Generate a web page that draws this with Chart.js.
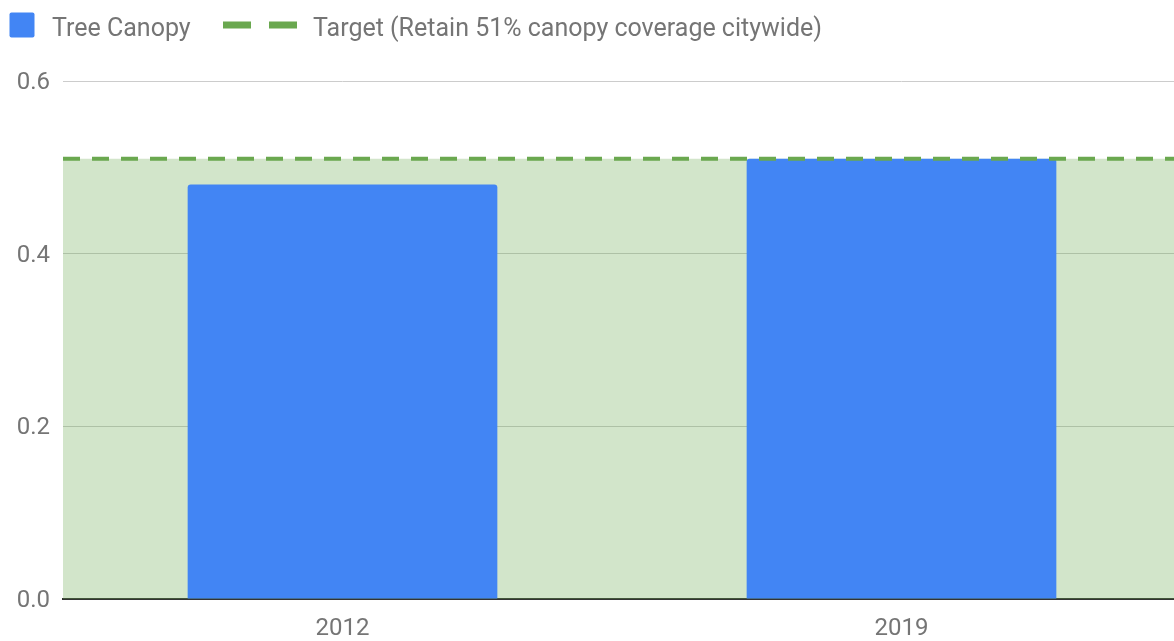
<!DOCTYPE html>
<html>
<head>
<meta charset="utf-8">
<script src="https://cdn.jsdelivr.net/npm/chart.js@4"></script>
<style>
  html, body { margin: 0; padding: 0; background: #fff; overflow: hidden; }
  #wrap { position: relative; width: 1181px; height: 641px; }
</style>
</head>
<body>
<div id="wrap"><canvas id="chart"></canvas></div>
<script>
// Tree canopy coverage vs. citywide target

const years = ['2012', '2019'];
const canopyValues = [0.48, 0.51];
const targetValue = 0.51;
const yTicks = [0, 0.2, 0.4, 0.6];

const seriesLabels = ['Tree Canopy', 'Target (Retain 51% canopy coverage citywide)'];

const BLUE = '#4285F4';
const GREEN = '#6aa84f';
const TEXT = '#757575';
const FONT = 'Roboto, "Noto Sans", sans-serif';

// legend drawn by hand so the bar gets a square and the target a dashed line
const topLegend = {
    id: 'topLegend',
    afterDraw(chart) {
        const ctx = chart.ctx;
        const ds = chart.data.datasets;
        ctx.save();
        ctx.font = '25px ' + FONT;
        ctx.textBaseline = 'alphabetic';

        // bar entry
        ctx.fillStyle = ds[0].backgroundColor;
        ctx.beginPath();
        ctx.roundRect(9.5, 12.5, 25, 25, 2);
        ctx.fill();
        ctx.fillStyle = TEXT;
        ctx.fillText(ds[0].label, 52, 36);

        // target entry
        ctx.strokeStyle = ds[1].borderColor;
        ctx.lineWidth = 7;
        ctx.setLineDash([28, 18]);
        ctx.beginPath();
        ctx.moveTo(223, 25);
        ctx.lineTo(297, 25);
        ctx.stroke();
        ctx.setLineDash([]);
        ctx.fillText(ds[1].label, 313, 36);
        ctx.restore();
    }
};

const chart = new Chart(document.getElementById('chart').getContext('2d'), {
    type: 'bar',
    data: {
        labels: years,
        datasets: [
            {
                label: seriesLabels[0],
                data: canopyValues,
                backgroundColor: BLUE,
                grouped: false,
                barPercentage: 0.554,
                categoryPercentage: 1,
                borderRadius: 3,
                order: 1
            },
            {
                type: 'line',
                label: seriesLabels[1],
                xAxisID: 'xt',
                // spans the whole plot on a hidden 0..1 axis
                data: [{ x: 0, y: targetValue }, { x: 1, y: targetValue }],
                borderColor: GREEN,
                borderWidth: 4,
                borderDash: [17, 12],
                pointRadius: 0,
                fill: 'origin',
                backgroundColor: 'rgba(106,168,79,0.3)',
                order: 0
            }
        ]
    },
    options: {
        responsive: true,
        maintainAspectRatio: false,
        animation: false,
        layout: { padding: { top: 81, left: 0, right: 0, bottom: 0 } },
        plugins: {
            legend: { display: false },
            tooltip: { enabled: false },
            filler: { drawTime: 'beforeDatasetsDraw' }
        },
        scales: {
            x: {
                afterFit(scale) { scale.height = 42; },
                grid: { display: false, drawTicks: false },
                border: { display: true, color: '#333', width: 2 },
                ticks: {
                    color: TEXT,
                    padding: 16,
                    font: { family: FONT, size: 24 }
                }
            },
            xt: {
                type: 'linear',
                display: false,
                offset: false,
                min: 0,
                max: 1
            },
            y: {
                min: 0,
                max: 0.6,
                afterBuildTicks(scale) {
                    scale.ticks = yTicks.map(v => ({ value: v }));
                },
                afterFit(scale) { scale.width = 63; },
                grid: { color: '#cccccc', drawTicks: false },
                border: { display: false },
                ticks: {
                    color: TEXT,
                    padding: 13,
                    labelOffset: 2,
                    font: { family: FONT, size: 24 },
                    callback: v => v.toFixed(1)
                }
            }
        }
    },
    plugins: [topLegend]
});
</script>
</body>
</html>
